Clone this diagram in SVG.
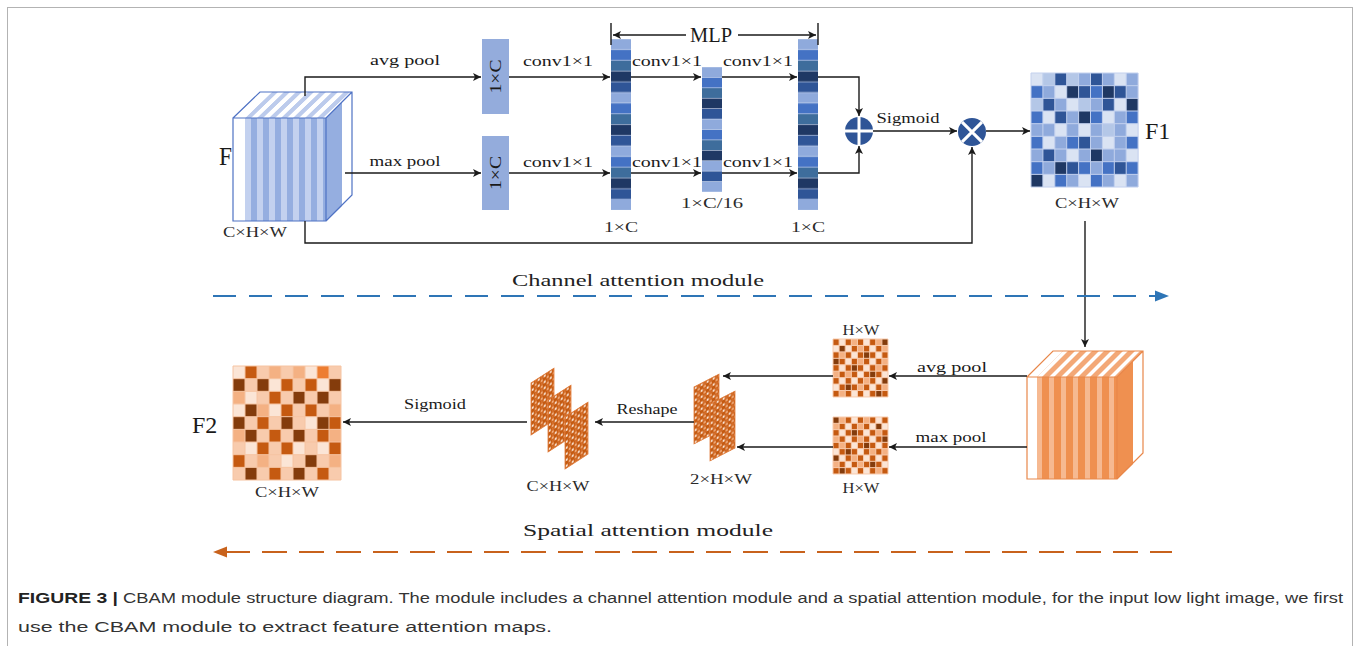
<svg xmlns="http://www.w3.org/2000/svg" xmlns:xlink="http://www.w3.org/1999/xlink" width="1360" height="646" viewBox="0 0 1360 646">
<style>
  .lb { font-family: "Liberation Serif", "Noto Sans CJK SC", serif; font-size: 15px; fill: #1a1a1a; }
  .dim { font-family: "Liberation Serif", "Noto Sans CJK SC", serif; font-size: 14px; fill: #2a2a2a; }
  .mod { font-family: "Liberation Serif", "Noto Sans CJK SC", serif; font-size: 17px; fill: #222; }
  .cap { font-family: "Liberation Sans", Arial, sans-serif; font-size: 15.5px; fill: #333; }
  .capb { font-family: "Liberation Sans", Arial, sans-serif; font-size: 15.5px; font-weight: bold; fill: #222; }
  .wire { fill: none; stroke: #1a1a1a; stroke-width: 1.4; }
  .arr { marker-end: url(#ah); }
</style>
<defs>
  <marker id="ah" viewBox="0 0 10 10" refX="10" refY="5" markerWidth="11" markerHeight="8" markerUnits="userSpaceOnUse" orient="auto">
    <path d="M0 0L10 5L0 10L2.5 5Z" fill="#1a1a1a"/>
  </marker>
  <!-- stripe fills for the feature-map cubes -->
  <pattern id="bStripe" patternUnits="userSpaceOnUse" x="245" y="0" width="12" height="10">
    <rect width="6" height="10" fill="#c3d1ef"/><rect x="6" width="6" height="10" fill="#95aee0"/>
  </pattern>
  <pattern id="bStripeTop" patternUnits="userSpaceOnUse" x="245" y="0" width="12" height="10">
    <rect width="6" height="10" fill="#bccbec"/><rect x="6" width="6" height="10" fill="#ffffff"/>
  </pattern>
  <pattern id="oStripe" patternUnits="userSpaceOnUse" x="1037" y="0" width="12" height="10">
    <rect width="5" height="10" fill="#f6b991"/><rect x="5" width="7" height="10" fill="#ef9050"/>
  </pattern>
  <pattern id="oStripeTop" patternUnits="userSpaceOnUse" x="1037" y="0" width="12" height="10">
    <rect width="5" height="10" fill="#ffffff"/><rect x="5" width="7" height="10" fill="#f3a877"/>
  </pattern>
  <!-- 1xC vector cells -->
  <pattern id="colP" patternUnits="userSpaceOnUse" x="0" y="39" width="20" height="53.44">
    <rect width="20" height="53.44" fill="#d3ddf2"/>
    <rect y="0.3" width="20" height="10.1" fill="#8faadc"/>
    <rect y="10.99" width="20" height="10.1" fill="#4472c4"/>
    <rect y="21.68" width="20" height="10.1" fill="#3e6d9c"/>
    <rect y="32.36" width="20" height="10.1" fill="#1f3864"/>
    <rect y="43.05" width="20" height="10.1" fill="#2f5597"/>
  </pattern>
  <!-- dotted texture for the spatial sheets -->
  <pattern id="sdots" patternUnits="userSpaceOnUse" width="6" height="6">
    <rect width="6" height="6" fill="#c55a11"/>
    <rect x="0.6" y="0.6" width="2.2" height="2.2" fill="#fbe5d6"/>
    <rect x="3.6" y="3.6" width="2.2" height="2.2" fill="#f4b183"/>
    <rect x="3.6" y="0.6" width="2.2" height="2.2" fill="#d8712e"/>
  </pattern>
  <!-- 9x9 cell lines in unit space; stroke colour comes from the referencing element -->
  <path id="g9" fill="none" stroke-width="1" vector-effect="non-scaling-stroke" d="M1 0V9M2 0V9M3 0V9M4 0V9M5 0V9M6 0V9M7 0V9M8 0V9M0 1H9M0 2H9M0 3H9M0 4H9M0 5H9M0 6H9M0 7H9M0 8H9M0 0H9V9H0Z"/>
  <g id="hwcells">
    <rect width="9" height="9" fill="#c55a11"/>
    <path fill="#fbe5d6" d="M1 0h1v1h-1zM5 0h1v1h-1zM0 1h1v1h-1zM2 1h1v1h-1zM6 1h1v1h-1zM3 2h1v1h-1zM7 2h1v1h-1zM2 3h1v1h-1zM6 3h1v1h-1zM1 4h1v1h-1zM5 4h1v1h-1zM4 5h1v1h-1zM8 5h1v1h-1zM1 6h1v1h-1zM3 6h1v1h-1zM7 6h1v1h-1zM0 7h1v1h-1zM6 7h1v1h-1zM3 8h1v1h-1zM5 8h1v1h-1z"/>
    <path fill="#f4b183" d="M3 0h1v1h-1zM7 0h1v1h-1zM4 1h1v1h-1zM8 1h1v1h-1zM1 2h1v1h-1zM4 3h1v1h-1zM8 3h1v1h-1zM7 4h1v1h-1zM0 5h1v1h-1zM2 5h1v1h-1zM5 6h1v1h-1zM4 7h1v1h-1zM8 7h1v1h-1zM1 8h1v1h-1z"/>
    <path fill="#843c0c" d="M8 0h1v1h-1zM1 1h1v1h-1zM5 2h1v1h-1zM0 3h1v1h-1zM3 4h1v1h-1zM6 5h1v1h-1zM8 6h1v1h-1zM2 7h1v1h-1zM7 8h1v1h-1z"/>
    <use href="#g9" stroke="#f8cbad"/>
  </g>
  <g id="sheet2">
    <rect width="25" height="57" fill="url(#sdots)" stroke="#e07b39" stroke-width="0.8"/>
  </g>
  <g id="sheet3">
    <rect width="23" height="52" fill="url(#sdots)" stroke="#e07b39" stroke-width="0.8"/>
  </g>
</defs>

<rect width="1360" height="646" fill="#ffffff"/>
<rect x="7.5" y="7.5" width="1345" height="660" fill="none" stroke="#b3b3b3" stroke-width="1"/>

<!-- input feature map F -->
<g id="node-F">
  <rect x="233" y="118" width="93" height="103" fill="#ffffff"/>
  <rect x="245" y="118" width="81" height="103" fill="url(#bStripe)"/>
  <path d="M233 118L260 92H352L326 118Z" fill="#ffffff"/>
  <g transform="matrix(1 0 1.038 -1 0 118)"><rect x="245" y="0" width="81" height="26" fill="url(#bStripeTop)"/></g>
  <path d="M326 118L352 92V195L326 221Z" fill="#ffffff"/>
  <path d="M326 118L342 102V206L326 221Z" fill="#95aee0"/>
  <path d="M233 118H326V221H233Z M233 118L260 92H352V195L326 221M326 118L352 92" fill="none" stroke="#4f72c4" stroke-width="1.2"/>
  <text x="219" y="165" textLength="13" lengthAdjust="spacingAndGlyphs" style="font-family:'Liberation Serif',serif;font-size:25px;fill:#1a1a1a">F</text>
  <text class="dim" x="255" y="237" text-anchor="middle" textLength="64" lengthAdjust="spacingAndGlyphs">C×H×W</text>
</g>

<!-- pooled vectors -->
<g id="node-avg-1xC">
  <rect x="482" y="39" width="27" height="75" fill="#94acdc"/>
  <text class="lb" x="495.5" y="82" text-anchor="middle" transform="rotate(-90 495.5 76.5)" textLength="34" lengthAdjust="spacingAndGlyphs" style="font-size:16px">1×C</text>
</g>
<g id="node-max-1xC">
  <rect x="482" y="136" width="27" height="74" fill="#94acdc"/>
  <text class="lb" x="495.5" y="178.5" text-anchor="middle" transform="rotate(-90 495.5 173)" textLength="34" lengthAdjust="spacingAndGlyphs" style="font-size:16px">1×C</text>
</g>

<!-- shared MLP columns -->
<g id="node-mlp-in">
  <rect x="611" y="39" width="20" height="171" fill="url(#colP)"/>
  <rect x="611" y="199.3" width="20" height="10.4" fill="#8faadc"/>
  <text class="dim" x="621" y="232" text-anchor="middle" textLength="34" lengthAdjust="spacingAndGlyphs">1×C</text>
</g>
<g id="node-mlp-hidden">
  <rect x="702" y="67" width="20" height="125" fill="#d3ddf2"/>
  <rect x="702" y="67.3" width="20" height="9.8" fill="#8faadc"/>
  <rect x="702" y="77.72" width="20" height="9.8" fill="#4472c4"/>
  <rect x="702" y="88.13" width="20" height="9.8" fill="#3e6d9c"/>
  <rect x="702" y="98.55" width="20" height="9.8" fill="#1f3864"/>
  <rect x="702" y="108.97" width="20" height="9.8" fill="#2f5597"/>
  <rect x="702" y="119.38" width="20" height="9.8" fill="#8faadc"/>
  <rect x="702" y="129.8" width="20" height="9.8" fill="#4472c4"/>
  <rect x="702" y="140.22" width="20" height="9.8" fill="#3e6d9c"/>
  <rect x="702" y="150.63" width="20" height="9.8" fill="#1f3864"/>
  <rect x="702" y="161.05" width="20" height="9.8" fill="#8faadc"/>
  <rect x="702" y="171.47" width="20" height="9.8" fill="#2f5597"/>
  <rect x="702" y="181.88" width="20" height="9.8" fill="#8faadc"/>
  <text class="dim" x="712" y="208" text-anchor="middle" textLength="62" lengthAdjust="spacingAndGlyphs">1×C/16</text>
</g>
<g id="node-mlp-out">
  <rect x="798" y="39" width="20" height="171" fill="url(#colP)"/>
  <rect x="798" y="199.3" width="20" height="10.4" fill="#8faadc"/>
  <text class="dim" x="808" y="232" text-anchor="middle" textLength="34" lengthAdjust="spacingAndGlyphs">1×C</text>
</g>

<!-- MLP span marker -->
<g id="mlp-span">
  <path class="wire" d="M611 23V45M818 23V45"/>
  <path class="wire arr" d="M686 35H613"/>
  <path class="wire arr" d="M738 35H816"/>
  <text x="711" y="42" text-anchor="middle" textLength="42" lengthAdjust="spacingAndGlyphs" style="font-family:'Liberation Serif',serif;font-size:22px;fill:#1a1a1a">MLP</text>
</g>

<!-- element-wise sum and product -->
<g id="node-sum">
  <circle cx="859" cy="131" r="14" fill="#2f5597"/>
  <path d="M845 131H873M859 117V145" stroke="#ffffff" stroke-width="3"/>
</g>
<g id="node-mul">
  <circle cx="972" cy="132" r="14" fill="#2f5597"/>
  <path d="M962.1 122.1L981.9 141.9M981.9 122.1L962.1 141.9" stroke="#ffffff" stroke-width="3"/>
</g>

<!-- channel-refined feature F1 -->
<g id="node-F1">
  <g transform="translate(1031 73) scale(11.9 12.67)">
    <rect width="9" height="9" fill="#8faadc"/>
    <path fill="#dae3f3" d="M0 0h1v1h-1zM7 0h1v1h-1zM2 1h1v1h-1zM3 2h1v1h-1zM7 2h1v1h-1zM1 3h1v1h-1zM6 3h1v1h-1zM2 4h1v1h-1zM4 4h1v1h-1zM8 4h1v1h-1zM1 5h1v1h-1zM6 5h1v1h-1zM3 6h1v1h-1zM8 6h1v1h-1zM1 8h1v1h-1zM4 8h1v1h-1zM7 8h1v1h-1z"/>
    <path fill="#b4c7e7" d="M1 0h1v1h-1zM3 0h1v1h-1zM0 2h1v1h-1zM4 2h1v1h-1zM6 4h1v1h-1z"/>
    <path fill="#4472c4" d="M0 1h1v1h-1zM5 1h1v1h-1zM0 3h1v1h-1zM5 3h1v1h-1zM8 3h1v1h-1zM0 5h1v1h-1zM3 5h1v1h-1zM8 5h1v1h-1zM0 7h1v1h-1zM4 7h1v1h-1zM6 7h1v1h-1zM8 7h1v1h-1zM2 8h1v1h-1zM5 8h1v1h-1z"/>
    <path fill="#2f5597" d="M2 0h1v1h-1zM5 0h1v1h-1zM4 1h1v1h-1zM7 1h1v1h-1zM1 2h1v1h-1zM6 2h1v1h-1zM2 3h1v1h-1zM4 5h1v1h-1zM1 6h1v1h-1zM3 7h1v1h-1zM7 7h1v1h-1z"/>
    <path fill="#1f3864" d="M3 1h1v1h-1zM6 1h1v1h-1zM8 2h1v1h-1zM4 3h1v1h-1zM5 6h1v1h-1zM2 7h1v1h-1zM0 8h1v1h-1z"/>
    <use href="#g9" stroke="#c3d1ee"/>
  </g>
  <text x="1145" y="139" style="font-family:'Liberation Serif',serif;font-size:24px;fill:#1a1a1a">F1</text>
  <text class="dim" x="1087" y="208" text-anchor="middle" textLength="64" lengthAdjust="spacingAndGlyphs">C×H×W</text>
</g>

<!-- F1 as a cube entering the spatial branch -->
<g id="node-F1-cube">
  <rect x="1027" y="377" width="90" height="102" fill="#ffffff"/>
  <rect x="1037" y="377" width="80" height="102" fill="url(#oStripe)"/>
  <path d="M1027 377L1053 351H1143L1117 377Z" fill="#ffffff"/>
  <g transform="matrix(1 0 1 -1 0 377)"><rect x="1037" y="0" width="80" height="26" fill="url(#oStripeTop)"/></g>
  <path d="M1117 377L1143 351V453L1117 479Z" fill="#ffffff"/>
  <path d="M1117 377L1133 361V464L1117 479Z" fill="#ef9050"/>
  <path d="M1027 377H1117V479H1027Z M1027 377L1053 351H1143V453L1117 479M1117 377L1143 351" fill="none" stroke="#e8874a" stroke-width="1.2"/>
</g>

<!-- spatial pooled maps -->
<g id="node-hw-avg">
  <use href="#hwcells" transform="translate(833 339) scale(6.11 6.44)"/>
  <text class="dim" x="861" y="335" text-anchor="middle" textLength="37" lengthAdjust="spacingAndGlyphs">H×W</text>
</g>
<g id="node-hw-max">
  <use href="#hwcells" transform="translate(888 417) scale(-6.11 6.33)"/>
  <text class="dim" x="861" y="493" text-anchor="middle" textLength="37" lengthAdjust="spacingAndGlyphs">H×W</text>
</g>

<!-- concatenated 2xHxW -->
<g id="node-2hw">
  <use href="#sheet2" transform="translate(694 387) skewY(-27.5)"/>
  <use href="#sheet2" transform="translate(710 404) skewY(-27.5)"/>
  <text class="dim" x="721" y="484" text-anchor="middle" textLength="62" lengthAdjust="spacingAndGlyphs">2×H×W</text>
</g>

<!-- reshaped CxHxW -->
<g id="node-chw">
  <use href="#sheet3" transform="translate(531 383) skewY(-33)"/>
  <use href="#sheet3" transform="translate(548 400) skewY(-33)"/>
  <use href="#sheet3" transform="translate(565 417) skewY(-33)"/>
  <text class="dim" x="558" y="491" text-anchor="middle" textLength="63" lengthAdjust="spacingAndGlyphs">C×H×W</text>
</g>

<!-- output F2 -->
<g id="node-F2">
  <g transform="translate(233 366) scale(12 12.67)">
    <rect width="9" height="9" fill="#f8cbad"/>
    <path fill="#fbe5d6" d="M0 0h1v1h-1zM6 0h1v1h-1zM3 1h1v1h-1zM7 1h1v1h-1zM1 2h1v1h-1zM0 3h1v1h-1zM3 3h1v1h-1zM6 4h1v1h-1zM1 6h1v1h-1zM5 6h1v1h-1zM7 6h1v1h-1zM4 7h1v1h-1z"/>
    <path fill="#f4b183" d="M3 0h1v1h-1zM5 0h1v1h-1zM0 2h1v1h-1zM2 3h1v1h-1zM8 3h1v1h-1zM0 5h1v1h-1zM8 5h1v1h-1zM2 7h1v1h-1zM8 7h1v1h-1z"/>
    <path fill="#c55a11" d="M1 0h1v1h-1zM4 1h1v1h-1zM6 1h1v1h-1zM3 2h1v1h-1zM4 3h1v1h-1zM6 3h1v1h-1zM2 4h1v1h-1zM8 4h1v1h-1zM3 5h1v1h-1zM7 5h1v1h-1zM2 6h1v1h-1zM4 6h1v1h-1zM8 6h1v1h-1zM0 7h1v1h-1zM3 8h1v1h-1zM7 8h1v1h-1z"/>
    <path fill="#ed7d31" d="M7 0h1v1h-1z"/>
    <path fill="#843c0c" d="M0 1h1v1h-1zM2 1h1v1h-1zM8 1h1v1h-1zM5 2h1v1h-1zM7 2h1v1h-1zM1 3h1v1h-1zM0 4h1v1h-1zM4 4h1v1h-1zM7 4h1v1h-1zM1 5h1v1h-1zM5 5h1v1h-1zM6 7h1v1h-1zM1 8h1v1h-1zM5 8h1v1h-1z"/>
    <use href="#g9" stroke="#f6c4a2"/>
  </g>
  <text x="192" y="433" style="font-family:'Liberation Serif',serif;font-size:24px;fill:#1a1a1a">F2</text>
  <text class="dim" x="287" y="497" text-anchor="middle" textLength="64" lengthAdjust="spacingAndGlyphs">C×H×W</text>
</g>

<!-- connectors -->
<g id="connectors">
  <path class="wire arr" d="M305 96V77H481"/>
  <path class="wire arr" d="M345 173H481"/>
  <path class="wire arr" d="M509 77H610"/>
  <path class="wire arr" d="M509 173H610"/>
  <path class="wire arr" d="M631 77H701"/>
  <path class="wire arr" d="M631 173H701"/>
  <path class="wire arr" d="M722 77H797"/>
  <path class="wire arr" d="M722 173H797"/>
  <path class="wire arr" d="M818 77H859V116"/>
  <path class="wire arr" d="M818 173H859V146"/>
  <path class="wire arr" d="M873 131H957"/>
  <path class="wire arr" d="M986 131H1030"/>
  <path class="wire arr" d="M305 221V243H972V147"/>
  <path class="wire arr" d="M1085 221V347"/>
  <path class="wire arr" d="M1027 376H889"/>
  <path class="wire arr" d="M1027 447H889"/>
  <path class="wire arr" d="M833 376H723"/>
  <path class="wire arr" d="M833 447H737"/>
  <path class="wire arr" d="M694 422H595"/>
  <path class="wire arr" d="M527 422H343"/>

  <text class="lb" x="405" y="65" text-anchor="middle" textLength="70" lengthAdjust="spacingAndGlyphs">avg pool</text>
  <text class="lb" x="405" y="166" text-anchor="middle" textLength="71" lengthAdjust="spacingAndGlyphs">max pool</text>
  <text class="lb" x="558" y="66" text-anchor="middle" textLength="70" lengthAdjust="spacingAndGlyphs">conv1×1</text>
  <text class="lb" x="558" y="167" text-anchor="middle" textLength="70" lengthAdjust="spacingAndGlyphs">conv1×1</text>
  <text class="lb" x="667" y="66" text-anchor="middle" textLength="70" lengthAdjust="spacingAndGlyphs">conv1×1</text>
  <text class="lb" x="667" y="167" text-anchor="middle" textLength="70" lengthAdjust="spacingAndGlyphs">conv1×1</text>
  <text class="lb" x="758" y="66" text-anchor="middle" textLength="70" lengthAdjust="spacingAndGlyphs">conv1×1</text>
  <text class="lb" x="758" y="167" text-anchor="middle" textLength="70" lengthAdjust="spacingAndGlyphs">conv1×1</text>
  <text class="lb" x="908" y="123" text-anchor="middle" textLength="63" lengthAdjust="spacingAndGlyphs">Sigmoid</text>
  <text class="lb" x="952" y="372" text-anchor="middle" textLength="70" lengthAdjust="spacingAndGlyphs">avg pool</text>
  <text class="lb" x="951" y="442" text-anchor="middle" textLength="71" lengthAdjust="spacingAndGlyphs">max pool</text>
  <text class="lb" x="647" y="414" text-anchor="middle" textLength="61" lengthAdjust="spacingAndGlyphs">Reshape</text>
  <text class="lb" x="435" y="409" text-anchor="middle" textLength="62" lengthAdjust="spacingAndGlyphs">Sigmoid</text>
</g>

<!-- module direction indicators -->
<g id="module-channel">
  <path d="M213 296H1150" fill="none" stroke="#2e75b6" stroke-width="2" stroke-dasharray="23 13"/>
  <path d="M1149 296H1158" stroke="#2e75b6" stroke-width="2"/>
  <path d="M1155 290.5L1169 296L1155 301.5Z" fill="#2e75b6"/>
  <text class="mod" x="638" y="286" text-anchor="middle" textLength="252" lengthAdjust="spacingAndGlyphs">Channel attention module</text>
</g>
<g id="module-spatial">
  <path d="M262 552H1172" fill="none" stroke="#c8621c" stroke-width="2" stroke-dasharray="25 12"/>
  <path d="M223 552H250" stroke="#c8621c" stroke-width="2"/>
  <path d="M227 546.5L213 552L227 557.5Z" fill="#c8621c"/>
  <text class="mod" x="648" y="536" text-anchor="middle" textLength="250" lengthAdjust="spacingAndGlyphs">Spatial attention module</text>
</g>

<!-- caption -->
<g id="caption">
  <text class="capb" x="18" y="603" textLength="100" lengthAdjust="spacingAndGlyphs">FIGURE 3 |</text>
  <text class="cap" x="123" y="603" textLength="1220" lengthAdjust="spacingAndGlyphs">CBAM module structure diagram. The module includes a channel attention module and a spatial attention module, for the input low light image, we first</text>
  <text class="cap" x="18" y="632" textLength="534" lengthAdjust="spacingAndGlyphs">use the CBAM module to extract feature attention maps.</text>
</g>
</svg>
